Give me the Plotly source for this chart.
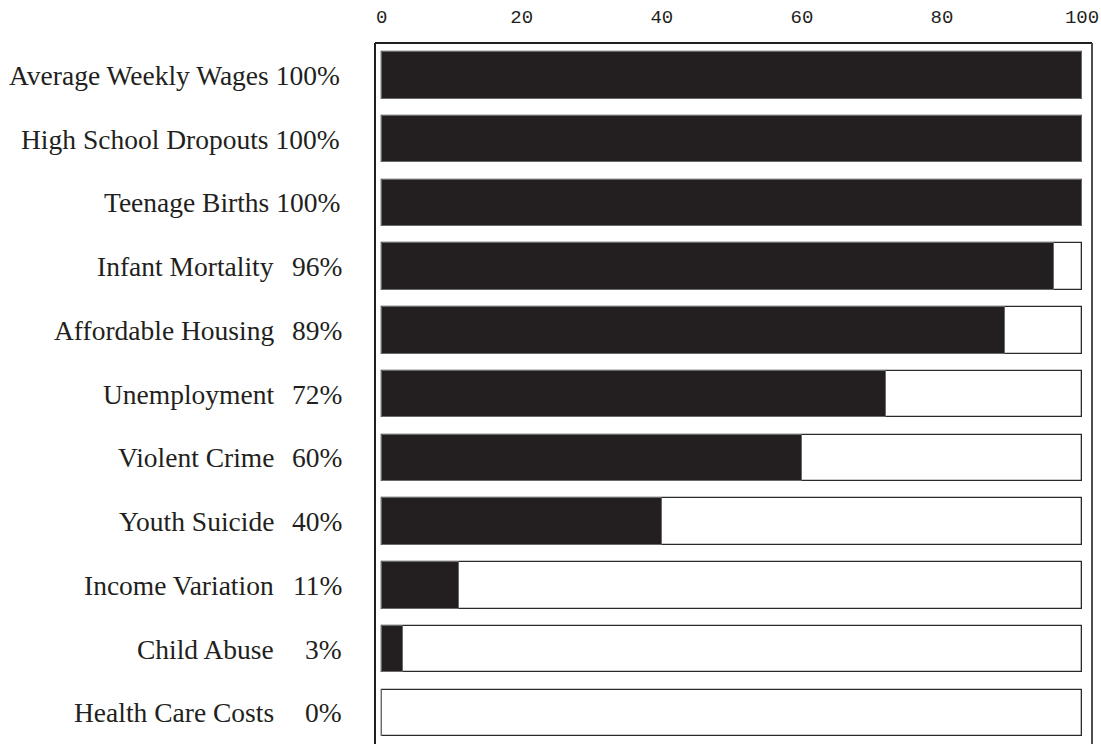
import plotly.graph_objects as go

categories = ["Average Weekly Wages", "High School Dropouts", "Teenage Births",
              "Infant Mortality", "Affordable Housing", "Unemployment",
              "Violent Crime", "Youth Suicide", "Income Variation",
              "Child Abuse", "Health Care Costs"]
values = [100, 100, 100, 96, 89, 72, 60, 40, 11, 3, 0]
full_scale = [100] * len(categories)
tick_vals = [0, 20, 40, 60, 80, 100]
tick_text = ["0", "20", "40", "60", "80", "100"]

DARK = "#231f20"
W, H = 1101, 744
L, R, T, B = 375, 9, 43, 0
plot_w = W - L - R

ypos = list(range(len(categories)))

fig = go.Figure()
fig.add_trace(go.Bar(
    x=full_scale, y=ypos, orientation="h", width=0.73,
    marker=dict(color="white", line=dict(color="#2a2a2a", width=1.3)),
    hoverinfo="skip", showlegend=False))
fig.add_trace(go.Bar(
    x=values, y=ypos, orientation="h", width=0.73,
    marker=dict(color=DARK, line=dict(color="#6a6a6a", width=1)),
    showlegend=False))

def px_to_paper(px):
    return (px - L) / plot_w

annotations = []
font = dict(family="Liberation Serif, Times New Roman, serif", size=27.5, color=DARK)
for i, (name, v) in enumerate(zip(categories, values)):
    pct = f"{v}%"
    if v >= 100:
        annotations.append(dict(x=px_to_paper(342), y=i, xref="paper", yref="y",
                                text=f"{name} {pct}", showarrow=False,
                                xanchor="right", yanchor="middle", font=font))
    else:
        annotations.append(dict(x=px_to_paper(276), y=i, xref="paper", yref="y",
                                text=name, showarrow=False,
                                xanchor="right", yanchor="middle", font=font))
        annotations.append(dict(x=px_to_paper(344), y=i, xref="paper", yref="y",
                                text=pct, showarrow=False,
                                xanchor="right", yanchor="middle", font=font))

frame = dict(type="line", xref="paper", yref="paper", layer="above",
             line=dict(color=DARK, width=2))
shapes = [
    dict(frame, x0=0, x1=0, y0=-0.01, y1=1.0),
    dict(frame, x0=0, x1=1, y0=1.0, y1=1.0),
    dict(frame, x0=1, x1=1, y0=-0.01, y1=1.0, line=dict(color="#3a3a3a", width=1.8)),
]

fig.update_layout(
    width=W, height=H, autosize=False,
    margin=dict(l=L, r=R, t=T, b=B, pad=0),
    paper_bgcolor="white", plot_bgcolor="white",
    barmode="overlay", bargap=0,
    annotations=annotations, shapes=shapes,
    xaxis=dict(side="top", range=[-0.96, 101.43], tickvals=tick_vals, ticktext=tick_text,
               showgrid=False, zeroline=False, showline=False,
               ticks="outside", ticklen=11, tickcolor="rgba(0,0,0,0)",
               tickfont=dict(family="Liberation Mono, DejaVu Sans Mono, monospace",
                             size=19, color=DARK)),
    yaxis=dict(range=[10.49, -0.51], showticklabels=False, showgrid=False, zeroline=False,
               showline=False, ticks=""),
)

fig.write_html(
    "out.html",
    config={"displayModeBar": False},
    post_script=("document.body.style.margin='0px';"
                 "document.body.style.overflow='hidden';"
                 "document.documentElement.style.overflow='hidden';"),
)
